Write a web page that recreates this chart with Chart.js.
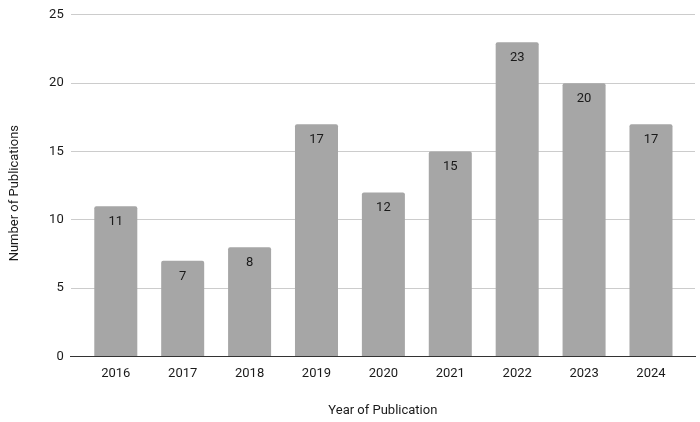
<!DOCTYPE html>
<html>
<head>
<meta charset="utf-8">
<script src="https://cdn.jsdelivr.net/npm/chart.js@4"></script>
<style>
  html, body { margin: 0; padding: 0; background: #fff; }
  #wrap { width: 700px; height: 422px; }
</style>
</head>
<body>
<div id="wrap"><canvas id="myChart"></canvas></div>
<script>
const years = ["2016", "2017", "2018", "2019", "2020", "2021", "2022", "2023", "2024"];
const pubCounts = [11, 7, 8, 17, 12, 15, 23, 20, 17];
const yTicks = [0, 5, 10, 15, 20, 25];
const yTitle = "Number of Publications";
const xTitle = "Year of Publication";

const points = years.map((y, i) => ({ x: i, y: pubCounts[i] }));

// numbers inside the top of each bar + the y axis title
const barLabels = {
  id: "barLabels",
  afterDatasetsDraw(chart) {
    const ctx = chart.ctx;
    const meta = chart.getDatasetMeta(0);
    ctx.save();
    ctx.font = "13px Roboto";
    ctx.fillStyle = "#1a1a1a";
    ctx.textAlign = "center";
    ctx.textBaseline = "middle";
    meta.data.forEach((bar, i) => {
      ctx.fillText(pubCounts[i], bar.x, bar.y + 15.5);
    });
    // y title sits a bit lower than the plot middle
    const area = chart.chartArea;
    ctx.translate(14.5, (area.top + area.bottom) / 2 + 7.5);
    ctx.rotate(-Math.PI / 2);
    ctx.fillText(yTitle, 0, 0);
    ctx.restore();
  }
};

const ctx = document.getElementById("myChart");
new Chart(ctx, {
  type: "bar",
  data: {
    datasets: [
      {
        label: "Publications",
        data: points,
        backgroundColor: "#a6a6a6",
        borderWidth: 0,
        borderRadius: { topLeft: 2, topRight: 2 },
        borderSkipped: "bottom",
        barPercentage: 0.643,
        categoryPercentage: 1,
      },
    ],
  },
  plugins: [barLabels],
  options: {
    responsive: true,
    maintainAspectRatio: false,
    animation: false,
    layout: { padding: { top: 0, right: 5, left: 0, bottom: 0 } },
    plugins: {
      legend: { display: false },
      tooltip: { enabled: false },
    },
    scales: {
      x: {
        type: "linear",
        bounds: "data",
        offset: false,
        min: -0.674,
        max: 8.658,
        afterBuildTicks(scale) {
          scale.ticks = years.map((y, i) => ({ value: i }));
        },
        afterFit(scale) {
          scale.height = 65.5;
        },
        grid: { display: false, offset: false },
        border: { display: true, color: "#333", width: 1 },
        ticks: {
          callback: (v) => years[v],
          font: { family: "Roboto", size: 13 },
          color: "#1a1a1a",
          padding: 1,
          maxRotation: 0,
          autoSkip: false,
        },
        title: {
          display: true,
          text: xTitle,
          font: { family: "Roboto", size: 13 },
          color: "#1a1a1a",
          padding: { top: 15, bottom: 3 },
        },
      },
      y: {
        min: 0,
        max: 25,
        afterBuildTicks(scale) {
          scale.ticks = yTicks.map((v) => ({ value: v }));
        },
        afterFit(scale) {
          scale.width = 70.7;
        },
        grid: { color: "#cccccc", drawTicks: false },
        border: { display: false },
        ticks: {
          font: { family: "Roboto", size: 13 },
          color: "#1a1a1a",
          padding: 7,
        },
        title: { display: false },
      },
    },
  },
});
</script>
</body>
</html>
